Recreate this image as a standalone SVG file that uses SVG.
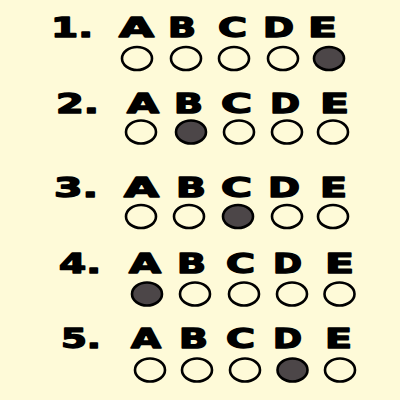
<svg xmlns="http://www.w3.org/2000/svg" width="400" height="400" viewBox="0 0 400 400">
<style>
.t{font-family:"DejaVu Sans","Liberation Sans",sans-serif;font-weight:bold;font-size:26px;fill:#000;stroke:#000;stroke-width:1.4;stroke-linejoin:round}
.o{fill:none;stroke:#000;stroke-width:2.6}
.f{fill:#4c4648;stroke:#000;stroke-width:2.6}
</style>
<rect width="400" height="400" fill="#FEFAD8"/>
<g id="q1">
<text class="t" x="51" y="37" textLength="42" lengthAdjust="spacingAndGlyphs">1.</text>
<text class="t" x="119" y="37" textLength="35" lengthAdjust="spacingAndGlyphs">A</text>
<text class="t" x="168" y="37" textLength="28" lengthAdjust="spacingAndGlyphs">B</text>
<text class="t" x="218" y="37" textLength="29" lengthAdjust="spacingAndGlyphs">C</text>
<text class="t" x="263" y="37" textLength="31" lengthAdjust="spacingAndGlyphs">D</text>
<text class="t" x="308" y="37" textLength="29" lengthAdjust="spacingAndGlyphs">E</text>
<ellipse class="o" cx="137" cy="58.5" rx="15" ry="11.5"/>
<ellipse class="o" cx="186" cy="58.5" rx="15" ry="11.5"/>
<ellipse class="o" cx="234" cy="58.5" rx="15" ry="11.5"/>
<ellipse class="o" cx="283" cy="58.5" rx="15" ry="11.5"/>
<ellipse class="f" cx="329" cy="58.5" rx="15" ry="11.5"/>
</g>
<g id="q2">
<text class="t" x="56" y="113" textLength="43" lengthAdjust="spacingAndGlyphs">2.</text>
<text class="t" x="127" y="113" textLength="32" lengthAdjust="spacingAndGlyphs">A</text>
<text class="t" x="174" y="113" textLength="29" lengthAdjust="spacingAndGlyphs">B</text>
<text class="t" x="221" y="113" textLength="31" lengthAdjust="spacingAndGlyphs">C</text>
<text class="t" x="270" y="113" textLength="30" lengthAdjust="spacingAndGlyphs">D</text>
<text class="t" x="320" y="113" textLength="29" lengthAdjust="spacingAndGlyphs">E</text>
<ellipse class="o" cx="141" cy="132" rx="15" ry="11.5"/>
<ellipse class="f" cx="191" cy="132" rx="15" ry="11.5"/>
<ellipse class="o" cx="239" cy="132" rx="15" ry="11.5"/>
<ellipse class="o" cx="287" cy="132" rx="15" ry="11.5"/>
<ellipse class="o" cx="333" cy="132" rx="15" ry="11.5"/>
</g>
<g id="q3">
<text class="t" x="54" y="197" textLength="44" lengthAdjust="spacingAndGlyphs">3.</text>
<text class="t" x="124" y="197" textLength="35" lengthAdjust="spacingAndGlyphs">A</text>
<text class="t" x="176" y="197" textLength="30" lengthAdjust="spacingAndGlyphs">B</text>
<text class="t" x="221" y="197" textLength="31" lengthAdjust="spacingAndGlyphs">C</text>
<text class="t" x="268" y="197" textLength="32" lengthAdjust="spacingAndGlyphs">D</text>
<text class="t" x="320" y="197" textLength="27" lengthAdjust="spacingAndGlyphs">E</text>
<ellipse class="o" cx="141" cy="216.5" rx="15" ry="11.5"/>
<ellipse class="o" cx="189" cy="216.5" rx="15" ry="11.5"/>
<ellipse class="f" cx="238" cy="216.5" rx="15" ry="11.5"/>
<ellipse class="o" cx="287" cy="216.5" rx="15" ry="11.5"/>
<ellipse class="o" cx="333" cy="216.5" rx="15" ry="11.5"/>
</g>
<g id="q4">
<text class="t" x="59" y="273" textLength="42" lengthAdjust="spacingAndGlyphs">4.</text>
<text class="t" x="129" y="273" textLength="32" lengthAdjust="spacingAndGlyphs">A</text>
<text class="t" x="177" y="273" textLength="29" lengthAdjust="spacingAndGlyphs">B</text>
<text class="t" x="226" y="273" textLength="29" lengthAdjust="spacingAndGlyphs">C</text>
<text class="t" x="273" y="273" textLength="29" lengthAdjust="spacingAndGlyphs">D</text>
<text class="t" x="325" y="273" textLength="29" lengthAdjust="spacingAndGlyphs">E</text>
<ellipse class="f" cx="147" cy="294" rx="15" ry="11.5"/>
<ellipse class="o" cx="195" cy="294" rx="15" ry="11.5"/>
<ellipse class="o" cx="244" cy="294" rx="15" ry="11.5"/>
<ellipse class="o" cx="292" cy="294" rx="15" ry="11.5"/>
<ellipse class="o" cx="339.5" cy="294" rx="15" ry="11.5"/>
</g>
<g id="q5">
<text class="t" x="61" y="348" textLength="40" lengthAdjust="spacingAndGlyphs">5.</text>
<text class="t" x="131" y="348" textLength="30" lengthAdjust="spacingAndGlyphs">A</text>
<text class="t" x="179" y="348" textLength="29" lengthAdjust="spacingAndGlyphs">B</text>
<text class="t" x="226" y="348" textLength="29" lengthAdjust="spacingAndGlyphs">C</text>
<text class="t" x="273" y="348" textLength="29" lengthAdjust="spacingAndGlyphs">D</text>
<text class="t" x="325" y="348" textLength="27" lengthAdjust="spacingAndGlyphs">E</text>
<ellipse class="o" cx="150" cy="370" rx="15" ry="11.5"/>
<ellipse class="o" cx="197" cy="370" rx="15" ry="11.5"/>
<ellipse class="o" cx="245" cy="370" rx="15" ry="11.5"/>
<ellipse class="f" cx="292.5" cy="370" rx="15" ry="11.5"/>
<ellipse class="o" cx="340" cy="370" rx="15" ry="11.5"/>
</g>
</svg>
